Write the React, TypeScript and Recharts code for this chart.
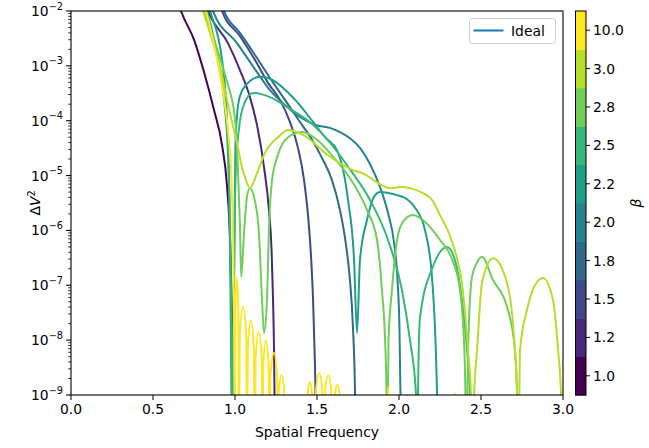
import React from "react";
import { LineChart, Line, XAxis, YAxis } from "recharts";

const FONT = "DejaVu Sans, sans-serif";

// colorbar / series keys
const betaLabels = ["1.0", "1.2", "1.5", "1.8", "2.0", "2.2", "2.5", "2.8", "3.0", "10.0"];
const betaColors = ["#440154", "#482878", "#3e4989", "#31688e", "#26828e", "#1f9e89", "#35b779", "#6ece58", "#b5de2b", "#fde725"];

const xTicks = [0, 0.5, 1, 1.5, 2, 2.5, 3];
const yTicks = [1e-9, 1e-8, 1e-7, 1e-6, 1e-5, 1e-4, 1e-3, 1e-2];

// [spatial frequency, delta V^2]
const beta1p0 = [
  [0.64, 2.0e-2], [0.671, 1.0e-2], [0.75, 3.0e-3], [0.811, 7.7e-4], [0.872, 1.57e-4], [0.921, 3.6e-5],
  [0.951, 6.7e-6], [0.97, 6.7e-7], [0.979, 6.6e-8], [0.985, 8.2e-9], [0.988, 1.0e-9], [0.994, 1.0e-11],
];
const beta1p2 = [
  [0.8, 2.0e-2], [0.835, 1.0e-2], [0.957, 2.6e-3], [1.03, 8.4e-4], [1.091, 2.7e-4], [1.14, 6.8e-5],
  [1.177, 1.43e-5], [1.207, 2.36e-6], [1.223, 4.4e-7], [1.232, 5.4e-8], [1.238, 6.6e-9], [1.241, 1.0e-9], [1.247, 1.0e-11],
];
const beta1p5 = [
  [0.89, 2.0e-2], [0.921, 1.0e-2], [1.03, 3.5e-3], [1.122, 1.28e-3], [1.201, 4.9e-4], [1.274, 2.4e-4],
  [1.335, 9.5e-5], [1.384, 3.2e-5], [1.421, 8.3e-6], [1.445, 1.91e-6], [1.463, 3.6e-7], [1.476, 5.4e-8],
  [1.485, 6.6e-9], [1.491, 1.0e-9], [1.497, 1.0e-11],
];
const beta1p8 = [
  [0.9, 2.0e-2], [0.933, 1.0e-2], [1.03, 4.0e-3], [1.122, 1.58e-3], [1.213, 6.0e-4], [1.305, 2.4e-4],
  [1.396, 9.5e-5], [1.47, 4.5e-5], [1.53, 2.1e-5], [1.591, 8.3e-6], [1.64, 2.36e-6], [1.677, 5.4e-7],
  [1.701, 1.25e-7], [1.72, 1.53e-8], [1.732, 1.0e-9], [1.738, 1.0e-11],
];
const beta2p0 = [
  [0.84, 2.0e-2], [0.866, 1.0e-2], [1.012, 2.6e-3], [1.134, 7.7e-4], [1.213, 3.6e-4], [1.305, 1.94e-4],
  [1.396, 1.17e-4], [1.488, 8.4e-5], [1.579, 7.4e-5], [1.64, 6.2e-5], [1.701, 4.8e-5], [1.762, 3.2e-5],
  [1.823, 1.63e-5], [1.884, 6.2e-6], [1.933, 2.08e-6], [1.97, 5.9e-7], [1.991, 1.25e-7], [2.003, 1.53e-8],
  [2.009, 1.0e-9], [2.015, 1.0e-11],
];
const beta2p2 = [
  [0.82, 2.0e-2], [0.848, 1.0e-2], [0.921, 1.28e-3], [0.951, 1.03e-4], [0.966, 3.6e-6], [0.973, 5.4e-8],
  [0.979, 1.0e-9], [0.985, 1.0e-11], [0.991, 1.0e-8], [0.997, 1.0e-6], [1.003, 3.9e-5], [1.012, 1.2e-4],
  [1.03, 2.8e-4], [1.073, 4.7e-4], [1.11, 5.8e-4], [1.152, 6.3e-4], [1.201, 6.0e-4], [1.256, 4.9e-4],
  [1.317, 3.4e-4], [1.378, 2.2e-4], [1.476, 9.5e-5], [1.549, 5.0e-5], [1.622, 2.9e-5], [1.689, 3.6e-6],
  [1.726, 2.9e-7], [1.744, 1.35e-8], [1.762, 2.9e-7], [1.805, 1.55e-6], [1.854, 4.4e-6], [1.884, 5.0e-6],
  [1.963, 4.6e-6], [2.049, 3.7e-6], [2.098, 2.6e-6], [2.159, 1.0e-6], [2.201, 1.42e-7], [2.232, 1.0e-9],
  [2.238, 1.0e-11],
];
const beta2p5 = [
  [0.8, 2.0e-2], [0.829, 1.0e-2], [0.89, 1.7e-3], [0.933, 2.4e-4], [0.957, 2.5e-5], [0.97, 1.0e-6],
  [0.979, 1.0e-8], [0.985, 1.0e-11], [0.991, 1.0e-8], [0.997, 1.0e-6], [1.006, 1.5e-5], [1.024, 7.0e-5],
  [1.055, 2.0e-4], [1.11, 3.2e-4], [1.213, 2.7e-4], [1.317, 1.78e-4], [1.476, 8.4e-5], [1.579, 4.0e-5],
  [1.701, 1.3e-5], [1.823, 3.6e-6], [1.933, 6.7e-7], [2.018, 8.2e-8], [2.067, 1.0e-8], [2.104, 1.0e-9],
  [2.11, 1.0e-11], [2.116, 1.0e-9], [2.128, 2.6e-8], [2.207, 2.2e-7], [2.293, 5.0e-7], [2.341, 2.9e-7],
  [2.384, 5.4e-8], [2.415, 6.6e-9], [2.433, 1.0e-9], [2.439, 1.0e-11],
];
const beta2p8 = [
  [0.78, 2.0e-2], [0.811, 1.0e-2], [0.872, 3.0e-3], [0.921, 1.04e-3], [0.963, 3.9e-4], [0.988, 1.94e-4],
  [1.006, 6.8e-5], [1.018, 1.26e-5], [1.03, 1.26e-6], [1.038, 1.42e-7], [1.055, 9.0e-7], [1.073, 4.1e-6],
  [1.091, 5.9e-6], [1.116, 4.1e-6], [1.146, 9.0e-7], [1.165, 5.4e-8], [1.177, 1.35e-8], [1.195, 5.4e-8],
  [1.207, 1.02e-6], [1.226, 8.3e-6], [1.262, 2.4e-5], [1.317, 4.8e-5], [1.409, 6.2e-5], [1.5, 4.5e-5],
  [1.598, 2.2e-5], [1.72, 7.3e-6], [1.805, 2.36e-6], [1.866, 6.7e-7], [1.896, 8.2e-8], [1.915, 1.0e-8],
  [1.924, 1.0e-9], [1.927, 1.0e-11], [1.936, 1.0e-8], [1.957, 8.2e-8], [1.988, 6.7e-7], [2.024, 1.43e-6],
  [2.085, 1.91e-6], [2.159, 1.43e-6], [2.25, 6.7e-7], [2.329, 2.7e-7], [2.372, 8.2e-8], [2.396, 1.0e-8],
  [2.405, 1.0e-9], [2.41, 1.0e-11], [2.421, 6.6e-9], [2.445, 1.42e-7], [2.476, 2.6e-7], [2.506, 3.3e-7],
  [2.573, 1.25e-7], [2.659, 4.0e-8], [2.707, 6.6e-9], [2.72, 1.0e-9], [2.726, 1.0e-11],
];
const beta3p0 = [
  [0.77, 2.0e-2], [0.805, 1.0e-2], [0.866, 2.6e-3], [0.909, 9.5e-4], [0.951, 2.4e-4], [0.982, 9.5e-5],
  [1.012, 3.9e-5], [1.043, 1.4e-5], [1.061, 9.4e-6], [1.091, 5.9e-6], [1.134, 1.1e-5], [1.183, 2.6e-5],
  [1.262, 5.0e-5], [1.323, 6.8e-5], [1.415, 5.5e-5], [1.579, 2.2e-5], [1.72, 1.26e-5], [1.78, 1.1e-5],
  [1.884, 7.0e-6], [1.945, 5.9e-6], [2.018, 6.2e-6], [2.067, 5.9e-6], [2.146, 4.8e-6], [2.201, 3.6e-6],
  [2.25, 1.9e-6], [2.311, 8.0e-7], [2.36, 2.6e-7], [2.384, 1.1e-7], [2.421, 6.6e-9], [2.439, 1.0e-9],
  [2.445, 1.0e-11], [2.458, 1.0e-9], [2.476, 6.6e-9], [2.506, 1.1e-7], [2.573, 3.1e-7], [2.659, 1.1e-7],
  [2.707, 6.6e-9], [2.72, 1.0e-9], [2.726, 1.0e-11], [2.738, 6.6e-9], [2.78, 3.5e-8], [2.829, 1.0e-7],
  [2.878, 1.36e-7], [2.939, 5.4e-8], [2.97, 6.6e-9], [2.988, 1.0e-9], [2.994, 1.0e-11],
];
const beta10p0 = [
  [0.79, 2.0e-2], [0.823, 1.0e-2], [0.872, 2.4e-3], [0.909, 6.8e-4], [0.939, 1.94e-4], [0.963, 4.5e-5],
  [0.979, 8.3e-6], [0.988, 6.7e-7], [0.994, 2.3e-8], [0.997, 1.0e-9], [0.999, 1.0e-10],
  [1.002, 4.0e-8], [1.01, 1.42e-7], [1.02, 4.0e-8], [1.024, 1.0e-10],
  [1.029, 1.2e-8], [1.049, 4.0e-8], [1.068, 1.2e-8], [1.073, 1.0e-10],
  [1.078, 7.0e-9], [1.097, 2.3e-8], [1.115, 7.0e-9], [1.12, 1.0e-10],
  [1.125, 4.5e-9], [1.145, 1.4e-8], [1.163, 4.5e-9], [1.168, 1.0e-10],
  [1.172, 3.5e-9], [1.188, 1.0e-8], [1.205, 3.5e-9], [1.21, 1.0e-10],
  [1.216, 2.3e-9], [1.238, 5.8e-9], [1.257, 2.3e-9], [1.262, 1.0e-10],
  [1.267, 1.2e-9], [1.284, 2.3e-9], [1.3, 1.2e-9], [1.305, 1.0e-10],
  [1.44, 1.0e-10], [1.444, 1.1e-9], [1.457, 1.73e-9], [1.469, 1.1e-9], [1.473, 1.0e-10],
  [1.49, 1.0e-10], [1.495, 1.3e-9], [1.514, 2.5e-9], [1.532, 1.3e-9], [1.537, 1.0e-10],
  [1.545, 1.0e-10], [1.55, 1.25e-9], [1.569, 2.3e-9], [1.587, 1.25e-9], [1.592, 1.0e-10],
  [1.605, 1.0e-10], [1.609, 1.05e-9], [1.624, 1.52e-9], [1.638, 1.05e-9], [1.642, 1.0e-10],
  [1.918, 1.0e-10], [1.933, 1.4e-9], [1.948, 1.0e-10],
  [2.333, 1.0e-10], [2.341, 1.1e-9], [2.35, 1.0e-10],
];

const curves = [beta1p0, beta1p2, beta1p5, beta1p8, beta2p0, beta2p2, beta2p5, beta2p8, beta3p0, beta10p0];

const yMinor: number[] = [];
for (let k = -9; k < -2; k++) for (let m = 2; m < 10; m++) yMinor.push(m * Math.pow(10, k));
const yAllTicks = [...yTicks, ...yMinor].sort((a, b) => a - b);

const LogTick = (props: any) => {
  const { x, y, payload } = props;
  const e = Math.log10(payload.value);
  const n = Math.round(e);
  if (Math.abs(e - n) > 1e-6) {
    return <line x1={x} x2={x - 2.8} y1={y} y2={y} stroke="#000" strokeWidth={0.8} />;
  }
  return (
    <g>
      <line x1={x} x2={x - 4.9} y1={y} y2={y} stroke="#000" strokeWidth={1.1} />
      <text x={x - 8} y={y} textAnchor="end" fontSize={13.9} fontFamily={FONT} fill="#000">
        <tspan dy={5}>10</tspan>
        <tspan dy={-6.5} fontSize={9.7}>{"\u2212" + Math.abs(n)}</tspan>
      </text>
    </g>
  );
};

const App = () => {
  const segH = 384 / betaLabels.length;
  return (
    <div style={{ position: "relative", width: 649, height: 448 }}>
      <style>{"body{margin:0}"}</style>
      <LineChart width={649} height={448} margin={{ top: 11, right: 86, bottom: 0, left: 0 }}>
        <XAxis
          dataKey="f"
          type="number"
          domain={[0, 3]}
          ticks={xTicks}
          interval={0}
          allowDataOverflow
          height={53}
          tickSize={5}
          tickMargin={4}
          stroke="#000"
          axisLine={false}
          tick={{ fill: "#000", fontSize: 13.9, fontFamily: FONT }}
          tickFormatter={(v: number) => v.toFixed(1)}
        />
        <YAxis
          dataKey="dv"
          type="number"
          scale="log"
          domain={[1e-9, 1e-2]}
          allowDataOverflow
          ticks={yAllTicks}
          interval={0}
          width={71}
          tickSize={0}
          tickMargin={0}
          tickLine={false}
          axisLine={false}
          tick={(p: any) => <LogTick {...p} />}
        />
        {curves.map((c, i) => (
          <Line
            key={betaLabels[i]}
            data={c.map(([f, dv]) => ({ f, dv }))}
            dataKey="dv"
            type="monotone"
            stroke={betaColors[i]}
            strokeWidth={2}
            dot={false}
            activeDot={false}
            isAnimationActive={false}
          />
        ))}
      </LineChart>
      <svg width={649} height={448} style={{ position: "absolute", left: 0, top: 0, pointerEvents: "none" }}>
        <rect x={71} y={11} width={492} height={384} fill="none" stroke="#000" strokeWidth={1.1} />
        <text transform="translate(40,203) rotate(-90)" textAnchor="middle" fontSize={13.9} fontFamily={FONT} fill="#000">
          <tspan>Δ</tspan>
          <tspan fontStyle="italic">V</tspan>
          <tspan dy={-5} fontSize={9.7}>2</tspan>
        </text>
        <text x={317} y={437} textAnchor="middle" fontSize={13.9} fontFamily={FONT} fill="#000">
          Spatial Frequency
        </text>

        {/* legend */}
        <rect x={469.5} y={18.5} width={86} height={25} rx={3} fill="#fff" fillOpacity={0.8} stroke="#ccc" />
        <line x1={473.5} x2={503.5} y1={30.5} y2={30.5} stroke="#1f77b4" strokeWidth={2} />
        <text x={511} y={35.5} fontSize={13.9} fontFamily={FONT} fill="#000">Ideal</text>

        {/* colorbar */}
        {betaLabels.map((b, i) => {
          const top = 11 + (betaLabels.length - 1 - i) * segH;
          const mid = top + segH / 2;
          return (
            <g key={b}>
              <rect x={575.5} y={top} width={10.5} height={segH + 0.5} fill={betaColors[i]} />
              <line x1={586} x2={590} y1={mid} y2={mid} stroke="#000" strokeWidth={1} />
              <text x={593} y={mid + 5} fontSize={13.9} fontFamily={FONT} fill="#000">{b}</text>
            </g>
          );
        })}
        <rect x={575.5} y={11} width={10.5} height={384} fill="none" stroke="#000" strokeWidth={1} />
        <text transform="translate(641,203) rotate(-90)" textAnchor="middle" fontSize={13.9} fontFamily={FONT} fontStyle="italic" fill="#000">
          β
        </text>
      </svg>
    </div>
  );
};

export default App;
